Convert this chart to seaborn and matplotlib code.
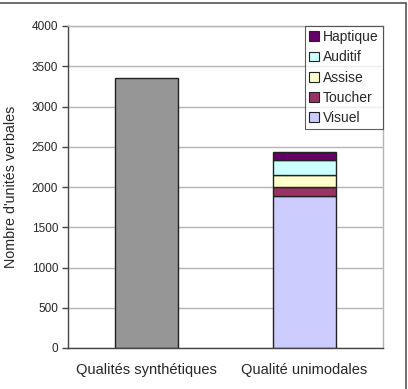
import matplotlib
matplotlib.use('Agg')

import matplotlib.pyplot as plt
import matplotlib.patches as mpatches
from matplotlib.lines import Line2D
import seaborn as sns
import pandas as pd

# categories on the x axis
categories = ['Qualités synthétiques', 'Qualité unimodales']

# first bar : one single block
synth_value = 3360

# second bar : stacked, from bottom to top
layers = ['Visuel', 'Toucher', 'Assise', 'Auditif', 'Haptique']
layer_values = [1890, 110, 150, 180, 100]
layer_colors = ['#ccccff', '#993366', '#ffffcc', '#ccffff', '#660066']

yticks = list(range(0, 4001, 500))


def stackedBars(ax):
    #gray bar, alone in the first category
    sns.barplot(x=[categories[0]], y=[synth_value], order=categories, color='#969696',
                width=0.4, edgecolor='#222222', linewidth=1, saturation=1, ax=ax)
    #stack the unimodal layers one on top of another
    bottom = 0
    for name, val, col in zip(layers, layer_values, layer_colors):
        sns.barplot(x=[categories[1]], y=[val], order=categories, color=col, bottom=bottom,
                    width=0.4, edgecolor='#222222', linewidth=1, saturation=1, ax=ax)
        bottom += val


def main():
    sns.set_style('white')
    plt.rcParams['font.family'] = ['Liberation Sans', 'DejaVu Sans']

    fig = plt.figure(figsize=(4.08, 3.89), dpi=100)
    ax = fig.add_axes([68 / 408, 1 - 348 / 389, 315 / 408, 322 / 389])

    stackedBars(ax)

    ax.set_xlim(-0.5, 1.5)
    ax.set_ylim(0, 4000)
    ax.set_yticks(yticks)
    ax.set_yticklabels([str(v) for v in yticks], fontsize=8.5)
    ax.yaxis.grid(True, color='#b4b4b4', linewidth=1)
    ax.set_axisbelow(True)

    #category labels in the middle, tick marks on the boundaries
    ax.set_xticks([0, 1])
    ax.set_xticklabels(categories, fontsize=10.5)
    ax.set_xticks([-0.5, 0.5, 1.5], minor=True)
    ax.tick_params(axis='x', which='major', length=0, pad=11)
    ax.tick_params(axis='x', which='minor', length=4, width=1, color='#444444', direction='out')
    ax.tick_params(axis='y', length=4, width=1, color='#444444', direction='out', left=True, pad=3)
    ax.set_xlabel('')
    ax.set_ylabel("Nombre d'unités verbales", fontsize=10.3)
    ax.yaxis.set_label_coords(-0.16, 0.5)

    for s in ['left', 'bottom']:
        ax.spines[s].set_color('#444444')
        ax.spines[s].set_linewidth(1)
    for s in ['top', 'right']:
        ax.spines[s].set_color('#b4b4b4')
        ax.spines[s].set_linewidth(1)

    #legend, top layer first
    handles = [mpatches.Patch(facecolor=c, edgecolor='#222222', linewidth=0.8, label=n)
               for n, c in zip(layers[::-1], layer_colors[::-1])]
    leg = ax.legend(handles=handles, loc='upper right', fontsize=10, frameon=True,
                    fancybox=False, edgecolor='#333333', borderaxespad=0,
                    handlelength=0.7, handleheight=0.7, handletextpad=0.3,
                    labelspacing=0.45, borderpad=0.3)
    leg.get_frame().set_linewidth(0.8)

    #outer frame of the picture (only top and right are visible)
    fig.add_artist(Line2D([0, 405.5 / 408], [1 - 3 / 389, 1 - 3 / 389], color='#555555', linewidth=1.2))
    fig.add_artist(Line2D([405.5 / 408, 405.5 / 408], [0, 1 - 3 / 389], color='#555555', linewidth=1.2))

    fig.savefig('out.png', dpi=100)


if __name__ == "__main__":
    main()
